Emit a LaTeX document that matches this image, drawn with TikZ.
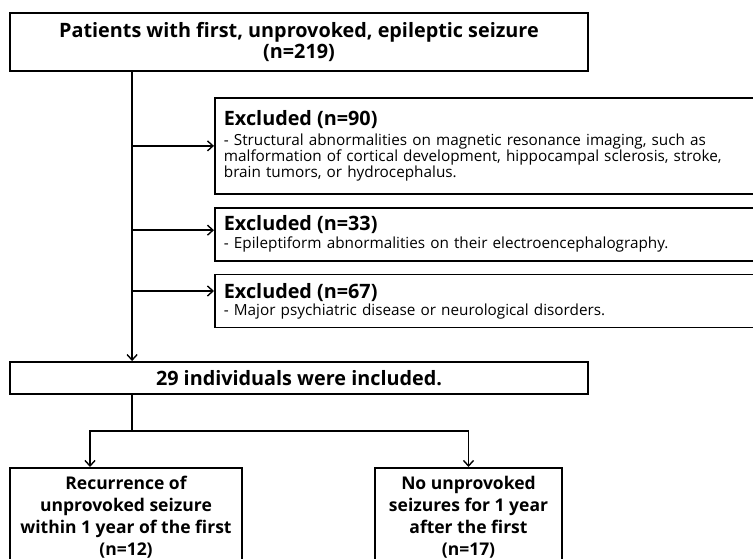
\documentclass[tikz,border=0pt]{standalone}
\usepackage{fontspec}
\setmainfont{Open Sans}
\usetikzlibrary{positioning,arrows.meta}

\begin{document}
\begin{tikzpicture}[
    x = 1pt, y = -1pt,
    > = {Straight Barb[length=5.5pt,width=10pt]},
    flow/.style = {->, line width=1.4pt},
    box/.style = {draw, line width=1.8pt, inner sep=0pt},
    headfont/.style = {font=\fontsize{19.8}{21}\selectfont\bfseries},
    exbox/.style = {box, anchor=north west, text width=540pt, align=left,
        inner xsep=9pt, font=\fontsize{15.3}{16}\selectfont},
    outbox/.style = {box, anchor=north, align=center, inner ysep=8pt,
        font=\fontsize{17.5}{22}\selectfont\bfseries}
]
    \clip (0,0) rectangle (753,559);

    % boxes
    \node[box, headfont, align=center, minimum width=578pt, minimum height=58pt]
        (patients) at (299,42) {Patients with first, unprovoked, epileptic seizure\\(n=219)};
    \node[exbox, minimum height=96pt] (ex1) at (214,97)
        {{\fontsize{19.8}{21}\selectfont\bfseries Excluded (n=90)}\\[4.5pt]
         - Structural abnormalities on magnetic resonance imaging, such as\\
         malformation of cortical development, hippocampal sclerosis, stroke,\\
         brain tumors, or hydrocephalus.};
    \node[exbox, minimum height=53pt, below=12pt of ex1.south west, anchor=north west] (ex2)
        {{\fontsize{19.8}{21}\selectfont\bfseries Excluded (n=33)}\\[2pt]
         - Epileptiform abnormalities on their electroencephalography.};
    \node[exbox, minimum height=53pt, below=12pt of ex2.south west, anchor=north west] (ex3)
        {{\fontsize{19.8}{21}\selectfont\bfseries Excluded (n=67)}\\[1pt]
         - Major psychiatric disease or neurological disorders.};
    \node[box, headfont, minimum width=578pt, minimum height=32pt]
        (incl) at (299,378) {29 individuals were included.};
    \node[outbox, minimum width=232pt] (recur) at (126,467)
        {Recurrence of\\unprovoked seizure\\within 1 year of the first\\(n=12)};
    \node[outbox, minimum width=187pt] (nosz) at (468.5,467)
        {No unprovoked\\seizures for 1 year\\after the first\\(n=17)};

    % connectors
    \coordinate (trunk) at ([xshift=123pt]patients.south west);
    \coordinate (ex2in) at ([yshift=4pt]ex2.west);
    \coordinate (ex3in) at ([yshift=10pt]ex3.west);
    \draw[flow] (trunk) -- (trunk |- incl.north);
    \draw[flow] (trunk |- ex1.west) -- (ex1.west);
    \draw[flow] (trunk |- ex2in) -- (ex2in);
    \draw[flow] (trunk |- ex3in) -- (ex3in);
    \draw[line width=1.4pt] (incl.south -| trunk) -- ++(0,36) coordinate (split);
    \draw[flow] (split) -| ([xshift=-36pt]recur.north);
    \draw[flow] (split) -| (nosz.north);
\end{tikzpicture}
\end{document}
